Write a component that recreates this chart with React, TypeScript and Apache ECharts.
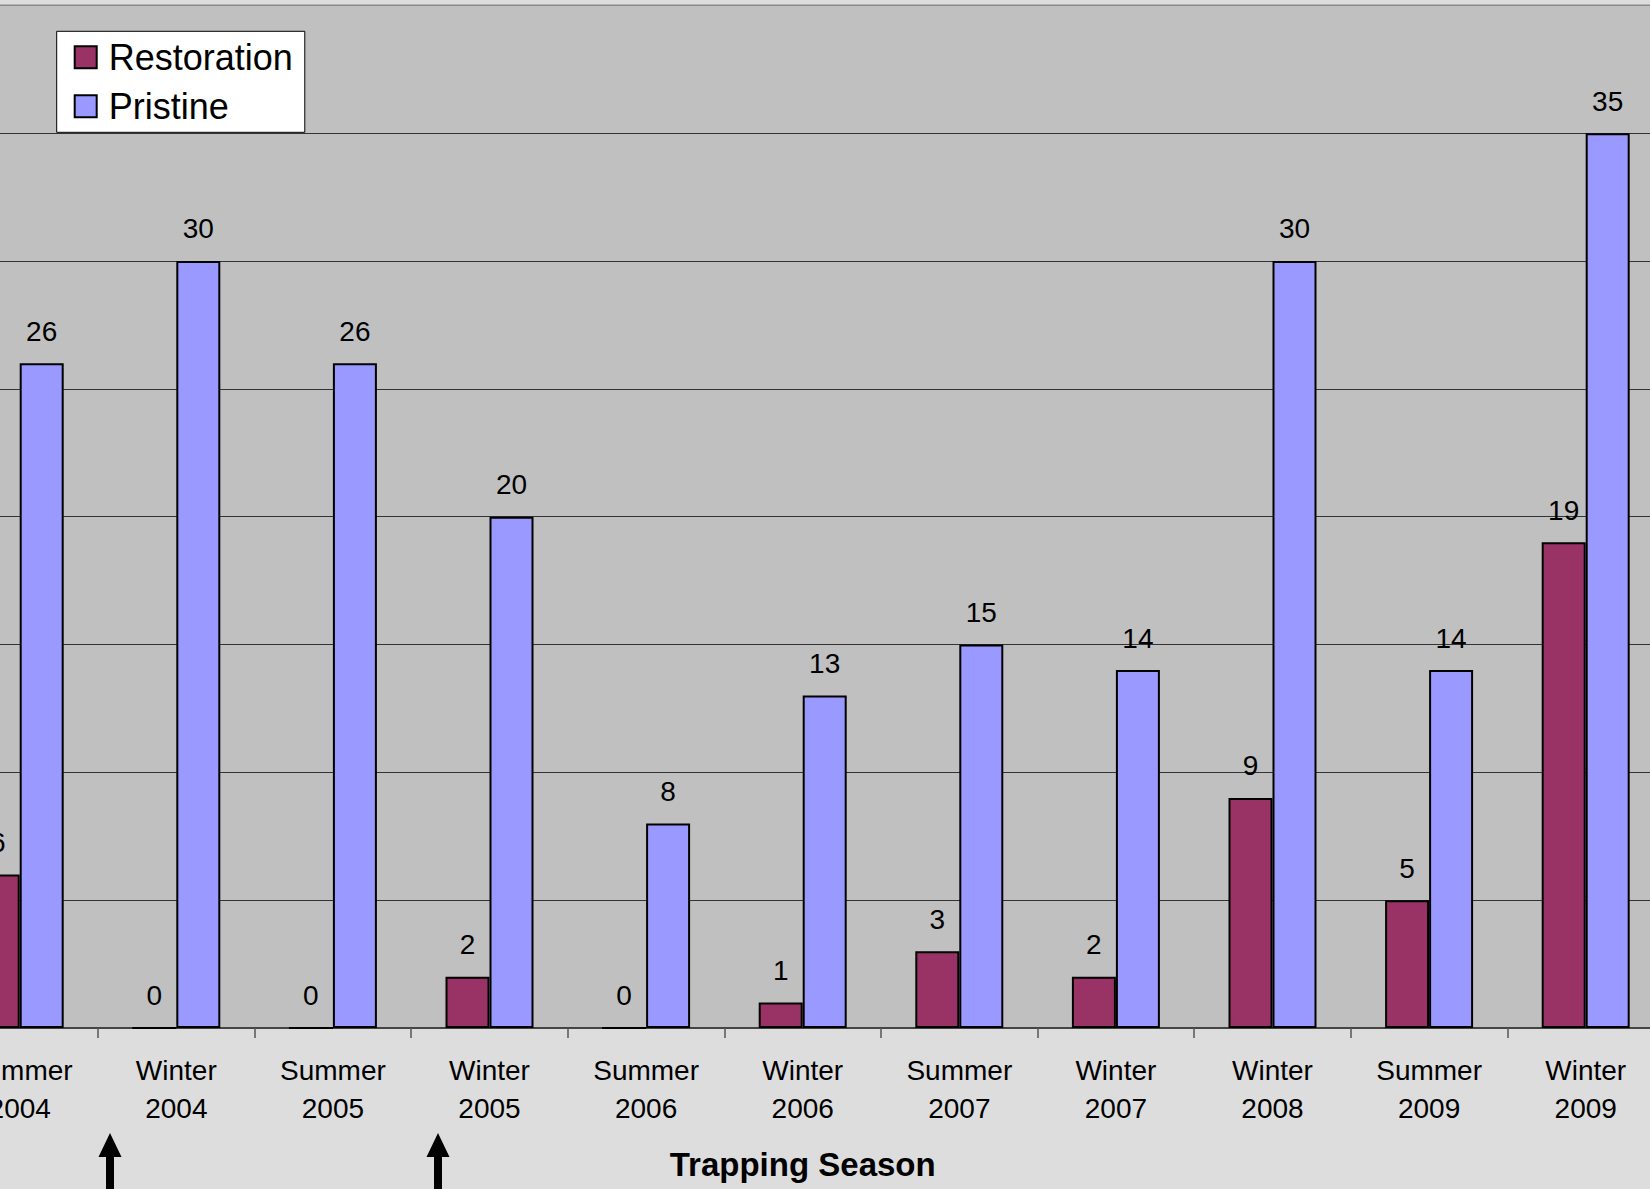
import React, { useEffect, useRef } from "react";
import * as echarts from "echarts";

const categories = [
  "Summer\n2004", "Winter\n2004", "Summer\n2005", "Winter\n2005", "Summer\n2006",
  "Winter\n2006", "Summer\n2007", "Winter\n2007", "Winter\n2008", "Summer\n2009", "Winter\n2009",
];
const restoration = [6, 0, 0, 2, 0, 1, 3, 2, 9, 5, 19];
const pristine = [26, 30, 26, 20, 8, 13, 15, 14, 30, 14, 35];

const OFFSET = 100; // inner chart shifted left so the plot extends beyond the visible page
const FONT = "Liberation Sans, Arial, sans-serif";

function arrow(cx: number) {
  const top = 1133, headB = 1157, bottom = 1195, hw = 11.5, sw = 4;
  return {
    type: "polygon",
    shape: {
      points: [
        [cx, top], [cx + hw, headB], [cx + sw, headB], [cx + sw, bottom],
        [cx - sw, bottom], [cx - sw, headB], [cx - hw, headB],
      ],
    },
    style: { fill: "#000" },
    z: 100,
  };
}

export default function App() {
  const ref = useRef<HTMLDivElement>(null);
  useEffect(() => {
    if (!ref.current) return;
    const chart = echarts.init(ref.current, undefined, { renderer: "svg" });
    const labelStyle = {
      show: true,
      position: "top",
      distance: 18,
      fontSize: 28,
      color: "#000",
      fontFamily: FONT,
    };
    chart.setOption({
      animation: false,
      backgroundColor: "#DDDDDD",
      textStyle: { fontFamily: FONT },
      grid: {
        left: OFFSET - 58.6,
        top: 5.3,
        width: 1722.6,
        height: 1022.7,
        show: true,
        backgroundColor: "#C0C0C0",
        borderColor: "#8a8a8a",
        borderWidth: 1.5,
      },
      legend: {
        orient: "vertical",
        left: OFFSET + 56.7,
        top: 31.3,
        backgroundColor: "#FFFFFF",
        borderColor: "#000",
        borderWidth: 1,
        borderRadius: 0,
        padding: [6, 12, 6, 17],
        itemWidth: 22,
        itemHeight: 22,
        itemGap: 9,
        icon: "rect",
        itemStyle: { borderColor: "#000", borderWidth: 2 },
        textStyle: {
          fontSize: 36,
          lineHeight: 40,
          color: "#000",
          fontFamily: FONT,
          padding: [0, 0, 0, 7],
        },
        data: ["Restoration", "Pristine"],
      },
      xAxis: {
        type: "category",
        data: categories,
        name: "Trapping Season",
        nameLocation: "middle",
        nameGap: 120,
        nameTextStyle: { fontSize: 33, fontWeight: "bold", color: "#000", fontFamily: FONT },
        axisLine: { lineStyle: { color: "#444", width: 2 } },
        axisTick: { show: true, length: 10, lineStyle: { color: "#555", width: 1.5 } },
        axisLabel: {
          fontSize: 28,
          lineHeight: 38,
          margin: 23,
          color: "#000",
          fontFamily: FONT,
          interval: 0,
        },
      },
      yAxis: {
        type: "value",
        min: 0,
        max: 40,
        interval: 5,
        axisLabel: { show: false },
        axisLine: { show: false },
        axisTick: { show: false },
        splitLine: {
          show: true,
          lineStyle: {
            color: ["#333", "#333", "#333", "#333", "#333", "#333", "#333", "#333", "#8a8a8a"],
            width: 1,
          },
        },
      },
      series: [
        {
          name: "Restoration",
          type: "bar",
          data: restoration,
          barWidth: 44,
          barGap: "0%",
          itemStyle: { color: "#993366", borderColor: "#000", borderWidth: 2 },
          label: labelStyle,
        },
        {
          name: "Pristine",
          type: "bar",
          data: pristine,
          barWidth: 44,
          barGap: "0%",
          itemStyle: { color: "#9999FF", borderColor: "#000", borderWidth: 2 },
          label: labelStyle,
        },
      ],
      graphic: [arrow(OFFSET + 110), arrow(OFFSET + 438)],
    });
    return () => chart.dispose();
  }, []);

  return (
    <div
      style={{
        position: "fixed",
        left: 0,
        top: 0,
        width: 1650,
        height: 1189,
        overflow: "hidden",
        background: "#DDDDDD",
      }}
    >
      <div
        ref={ref}
        style={{ position: "absolute", left: -OFFSET, top: 0, width: 1850, height: 1189 }}
      />
    </div>
  );
}
